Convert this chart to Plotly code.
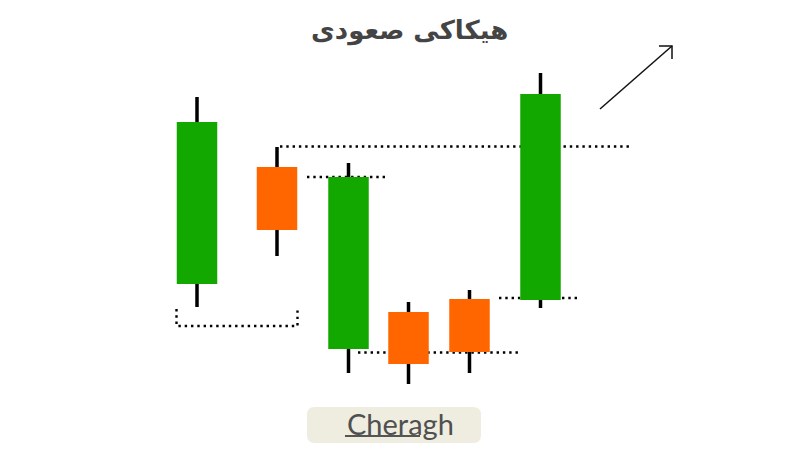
import plotly.graph_objects as go

# ---- data (price units, session positions) ----
sessions = [19.7, 27.7, 34.85, 40.85, 46.95, 54.05]
opens  = [16.6, 28.3, 10.1, 13.8, 15.1, 15.0]
closes = [32.8, 22.0, 27.3, 8.6, 9.8, 35.6]
highs  = [35.3, 30.3, 28.7, 14.8, 16.0, 37.7]
lows   = [14.3, 19.4, 7.7, 6.6, 7.7, 14.2]
title_text = "هیکاکی صعودی"
brand_text = "Cheragh"

GREEN = "#12a800"
ORANGE = "#ff6600"
BODY_W = 4.05

fig = go.Figure()

# wicks (upper and lower segments, outside the bodies)
wx, wy = [], []
for s, o, c, lo, hi in zip(sessions, opens, closes, lows, highs):
    wx += [s, s, None, s, s, None]
    wy += [lo, min(o, c), None, max(o, c), hi, None]
fig.add_trace(go.Scatter(x=wx, y=wy, mode="lines",
                         line=dict(color="#000000", width=3.5),
                         hoverinfo="skip", showlegend=False))

# bodies
colors = [GREEN if c >= o else ORANGE for o, c in zip(opens, closes)]
fig.add_trace(go.Bar(x=sessions,
                     y=[abs(c - o) for o, c in zip(opens, closes)],
                     base=[min(o, c) for o, c in zip(opens, closes)],
                     width=BODY_W, marker=dict(color=colors, line=dict(width=0)),
                     showlegend=False, hoverinfo="skip"))

dot = dict(color="#000000", width=2.4, dash="2.4px,3.9px")
shapes = []
# resistance from candle 2 high
shapes.append(dict(type="line", xref="x", yref="y", x0=28.0, x1=63.0,
                   y0=highs[1] + 0.05, y1=highs[1] + 0.05, line=dot, layer="below"))
# candle 3 close level
shapes.append(dict(type="line", xref="x", yref="y", x0=30.7, x1=38.8,
                   y0=closes[2], y1=closes[2], line=dot, layer="below"))
# candle 5 close level
shapes.append(dict(type="line", xref="x", yref="y", x0=35.8, x1=52.0,
                   y0=closes[4] - 0.05, y1=closes[4] - 0.05, line=dot, layer="below"))
# candle 6 open level
shapes.append(dict(type="line", xref="x", yref="y", x0=49.9, x1=58.0,
                   y0=opens[5] + 0.2, y1=opens[5] + 0.2, line=dot, layer="below"))
# bracket below candle 1
shapes.append(dict(type="path", xref="x", yref="y",
                   path="M 17.65 14.1 L 17.65 12.4 L 29.75 12.4 L 29.75 14.1",
                   line=dot, layer="below"))

# arrow
shapes.append(dict(type="line", xref="x", yref="y", x0=60.0, y0=34.1, x1=67.2, y1=40.4,
                   line=dict(color="#111111", width=1.5)))
shapes.append(dict(type="path", xref="x", yref="y",
                   path="M 65.9 40.4 L 67.2 40.4 L 67.2 39.1",
                   line=dict(color="#111111", width=1.5)))

# brand badge
x0, x1, y0, y1, r = 30.7, 48.1, 0.7, 4.3, 0.8
badge = (f"M {x0+r} {y0} L {x1-r} {y0} Q {x1} {y0} {x1} {y0+r} L {x1} {y1-r} "
         f"Q {x1} {y1} {x1-r} {y1} L {x0+r} {y1} Q {x0} {y1} {x0} {y1-r} "
         f"L {x0} {y0+r} Q {x0} {y0} {x0+r} {y0} Z")
shapes.append(dict(type="path", xref="x", yref="y", path=badge,
                   fillcolor="#eeeddf", line=dict(width=0), layer="below"))
shapes.append(dict(type="line", xref="x", yref="y", x0=34.5, x1=42.0, y0=1.4, y1=1.4,
                   line=dict(color="#555555", width=2.2)))

annotations = [
    dict(x=40.9, y=42.0, xref="x", yref="y", text="<b>" + title_text + "</b>",
         showarrow=False, font=dict(family="DejaVu Sans", size=26, color="#444444")),
    dict(x=40.0, y=2.7, xref="x", yref="y", text=brand_text, showarrow=False,
         font=dict(family="Lato", size=29, color="#505050")),
]

fig.update_layout(
    width=800, height=450,
    margin=dict(l=0, r=0, t=0, b=0),
    paper_bgcolor="#ffffff", plot_bgcolor="#ffffff",
    barmode="overlay",
    xaxis=dict(range=[0, 80], visible=False, fixedrange=True),
    yaxis=dict(range=[0, 45], visible=False, fixedrange=True),
    shapes=shapes, annotations=annotations,
    showlegend=False,
)

fig.write_html("out.html", config={"displayModeBar": False},
               post_script="document.body.style.margin='0';")
